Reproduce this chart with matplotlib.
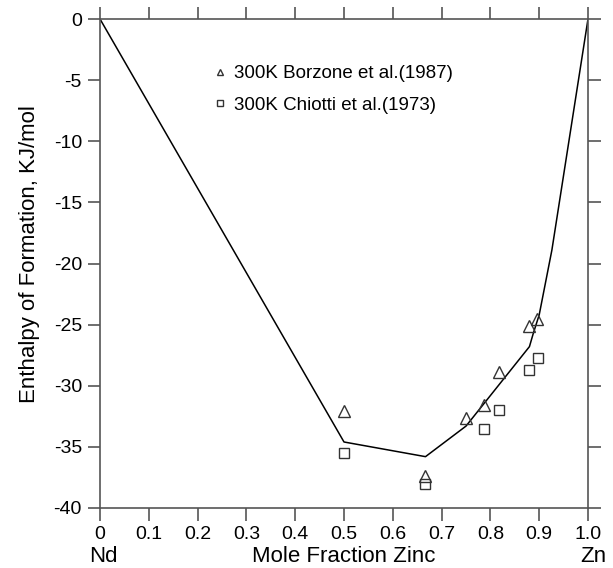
import numpy as np
from matplotlib import pyplot as plt

# calculated curve
x_calc = [0.0, 0.5, 0.667, 0.75, 0.88, 0.888, 0.9, 0.926, 1.0]
h_calc = [0.0, -34.6, -35.8, -33.3, -26.8, -25.7, -24.2, -18.9, 0.0]

# Borzone et al. (1987)
x_borz = [0.5, 0.667, 0.75, 0.786, 0.818, 0.88, 0.895]
h_borz = [-32.1, -37.4, -32.6, -31.6, -28.9, -25.1, -24.5]

# Chiotti et al. (1973)
x_chio = [0.5, 0.667, 0.786, 0.818, 0.88, 0.897]
h_chio = [-35.5, -38.0, -33.5, -32.0, -28.7, -27.7]

xticks = [0, 0.1, 0.2, 0.3, 0.4, 0.5, 0.6, 0.7, 0.8, 0.9, 1.0]
xticklabels = ['0', '0.1', '0.2', '0.3', '0.4', '0.5', '0.6', '0.7', '0.8', '0.9', '1.0']
yticks = [0, -5, -10, -15, -20, -25, -30, -35, -40]

plt.rcParams['font.family'] = ['Liberation Sans', 'DejaVu Sans']
plt.rcParams['axes.unicode_minus'] = False

fig = plt.figure(figsize=(6.13, 5.68), dpi=100)
ax = fig.add_axes([100/613, 1-508/568, 488/613, 489/568])

ax.plot(x_calc, h_calc, color='black', lw=1.1)
ax.plot(x_borz, h_borz, ls='none', marker='^', ms=8, mfc='none', mec='#333333', mew=1.0,
        label='300K Borzone et al.(1987)')
ax.plot(x_chio, h_chio, ls='none', marker='s', ms=7, mfc='none', mec='#333333', mew=1.0,
        label='300K Chiotti et al.(1973)')

ax.set_xlim(0, 1.0)
ax.set_ylim(-40, 0)
ax.set_xticks(xticks)
ax.set_xticklabels(xticklabels)
ax.set_yticks(yticks)
ax.tick_params(direction='out', length=9, width=1.2, color='#555555', labelsize=14,
               top=True, right=True, labeltop=False, labelright=False, pad=4)
for s in ax.spines.values():
    s.set_color('#555555')
    s.set_linewidth(1.2)

ax.set_ylabel('Enthalpy of Formation, KJ/mol', fontsize=16, va='center')
ax.yaxis.set_label_coords(-71/488, 0.52)
ax.set_xlabel('Mole Fraction Zinc', fontsize=16, va='center')
ax.xaxis.set_label_coords(0.5, -48/489)
fig.text(103/613, 1-556/568, 'Nd', ha='center', va='center', fontsize=16)
fig.text(593/613, 1-556/568, 'Zn', ha='center', va='center', fontsize=16)

leg = ax.legend(loc='upper left', bbox_to_anchor=(0.2, 0.94), frameon=False, fontsize=13.5,
                markerscale=0.55, handlelength=0.6, handletextpad=0.45, labelspacing=0.75)

fig.savefig('out.png', dpi=100)
